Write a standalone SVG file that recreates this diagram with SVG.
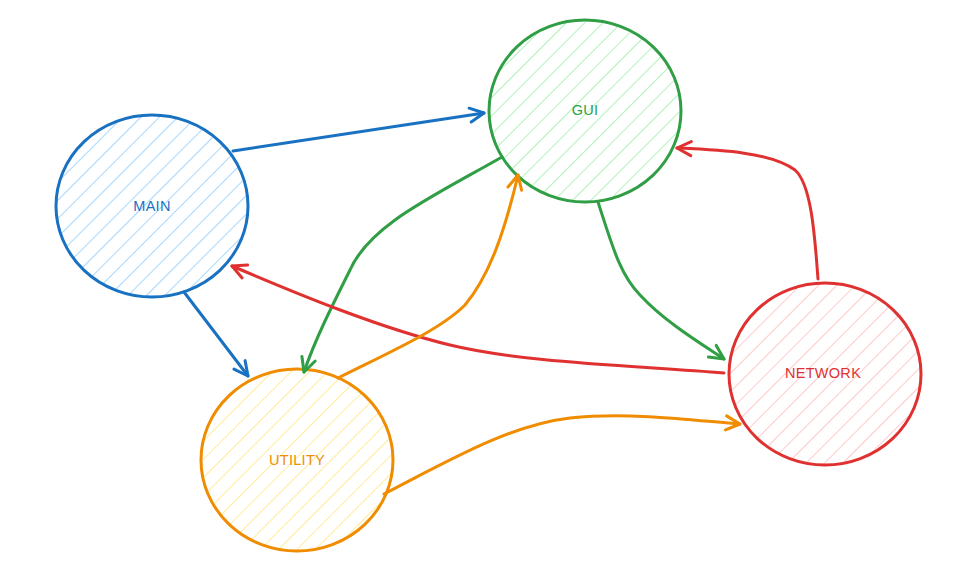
<svg xmlns="http://www.w3.org/2000/svg" width="977" height="571" viewBox="0 0 977 571">
<style>
.lbl{font-family:"Liberation Sans","DejaVu Sans",sans-serif;font-size:14.5px;text-anchor:middle;dominant-baseline:central;letter-spacing:0.3px}
.edge{fill:none;stroke-width:3;stroke-linecap:round;stroke-linejoin:round}
.node{stroke-width:3}
</style>
<defs>
<pattern id="hb" patternUnits="userSpaceOnUse" width="13" height="13" patternTransform="rotate(45)"><line x1="0" y1="0" x2="0" y2="13" stroke="#a5d8ff" stroke-width="2"/></pattern>
<pattern id="hg" patternUnits="userSpaceOnUse" width="13" height="13" patternTransform="rotate(45)"><line x1="0" y1="0" x2="0" y2="13" stroke="#b2f2bb" stroke-width="2"/></pattern>
<pattern id="hr" patternUnits="userSpaceOnUse" width="13" height="13" patternTransform="rotate(45)"><line x1="0" y1="0" x2="0" y2="13" stroke="#ffc9c9" stroke-width="2"/></pattern>
<pattern id="ho" patternUnits="userSpaceOnUse" width="13" height="13" patternTransform="rotate(45)"><line x1="0" y1="0" x2="0" y2="13" stroke="#ffec99" stroke-width="2"/></pattern>
<marker id="ab" viewBox="0 0 20 20" refX="18" refY="10" markerWidth="20" markerHeight="20" markerUnits="userSpaceOnUse" orient="auto"><path d="M4,3 L18,10 L4,17" fill="none" stroke="#1971c2" stroke-width="3" stroke-linecap="round" stroke-linejoin="round"/></marker>
<marker id="ag" viewBox="0 0 20 20" refX="18" refY="10" markerWidth="20" markerHeight="20" markerUnits="userSpaceOnUse" orient="auto"><path d="M4,3 L18,10 L4,17" fill="none" stroke="#2f9e44" stroke-width="3" stroke-linecap="round" stroke-linejoin="round"/></marker>
<marker id="ar" viewBox="0 0 20 20" refX="18" refY="10" markerWidth="20" markerHeight="20" markerUnits="userSpaceOnUse" orient="auto"><path d="M4,3 L18,10 L4,17" fill="none" stroke="#e03131" stroke-width="3" stroke-linecap="round" stroke-linejoin="round"/></marker>
<marker id="ao" viewBox="0 0 20 20" refX="18" refY="10" markerWidth="20" markerHeight="20" markerUnits="userSpaceOnUse" orient="auto"><path d="M4,3 L18,10 L4,17" fill="none" stroke="#f08c00" stroke-width="3" stroke-linecap="round" stroke-linejoin="round"/></marker>
</defs>
<rect width="977" height="571" fill="#ffffff"/>
<g id="main"><ellipse class="node" cx="152" cy="206" rx="96" ry="91" fill="url(#hb)" stroke="#1971c2"/><text class="lbl" x="152" y="206" fill="#1971c2">MAIN</text></g>
<g id="gui"><ellipse class="node" cx="585" cy="111" rx="96" ry="91" fill="url(#hg)" stroke="#2f9e44"/><text class="lbl" x="585" y="110" fill="#2f9e44">GUI</text></g>
<g id="network"><ellipse class="node" cx="825" cy="374" rx="96" ry="91" fill="url(#hr)" stroke="#e03131"/><text class="lbl" x="823" y="373" fill="#e03131">NETWORK</text></g>
<g id="utility"><ellipse class="node" cx="297" cy="460" rx="96" ry="91" fill="url(#ho)" stroke="#f08c00"/><text class="lbl" x="297" y="460" fill="#f08c00">UTILITY</text></g>
<g id="connectors">
<path class="edge" stroke="#1971c2" marker-end="url(#ab)" d="M233,151 L484,113"/>
<path class="edge" stroke="#1971c2" marker-end="url(#ab)" d="M184,292 L248,376"/>
<path class="edge" stroke="#2f9e44" marker-end="url(#ag)" d="M502,157 C430,198 370,225 350,270 C330,310 315,340 304,372"/>
<path class="edge" stroke="#2f9e44" marker-end="url(#ag)" d="M598,202 C612,245 620,275 640,295 C665,322 700,343 724,359"/>
<path class="edge" stroke="#e03131" marker-end="url(#ar)" d="M818,279 C815,240 812,185 795,170 C770,152 720,150 677,148"/>
<path class="edge" stroke="#e03131" marker-end="url(#ar)" d="M724,373 C620,365 520,362 450,345 C380,328 300,295 232,266"/>
<path class="edge" stroke="#f08c00" marker-end="url(#ao)" d="M338,378 C390,352 440,330 465,305 C490,275 505,230 518,175"/>
<path class="edge" stroke="#f08c00" marker-end="url(#ao)" d="M384,494 C450,460 510,425 570,418 C630,412 690,420 740,424"/>
</g>
</svg>
